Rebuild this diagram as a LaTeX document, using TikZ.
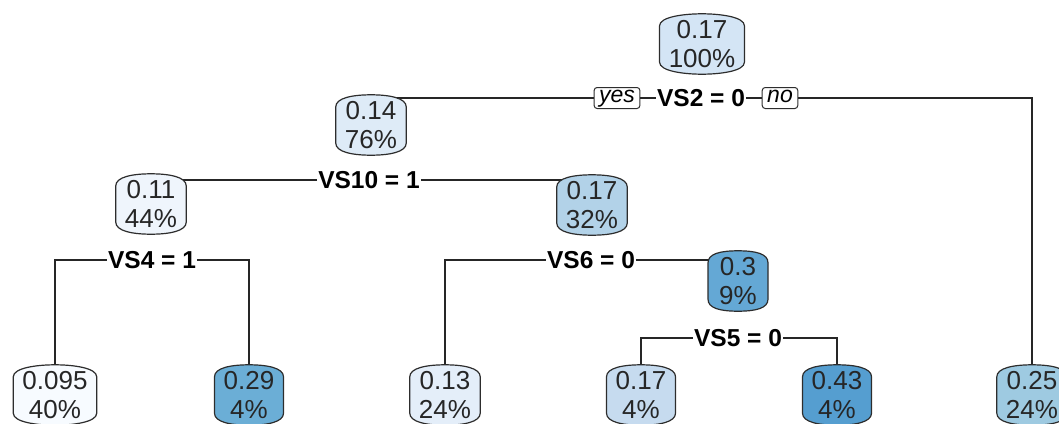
\documentclass[tikz,border=0pt]{standalone}
\usepackage{fontspec}
\setmainfont{Liberation Sans}
\usepackage{xcolor}
\usepackage{tikz}
\usetikzlibrary{positioning,calc}
\definecolor{boxline}{RGB}{45,45,45}
\definecolor{blueA}{RGB}{247,251,255}
\definecolor{blueB}{RGB}{239,245,252}
\definecolor{blueC}{RGB}{228,238,249}
\definecolor{blueD}{RGB}{222,235,247}
\definecolor{blueE}{RGB}{212,229,245}
\definecolor{blueF}{RGB}{198,219,239}
\definecolor{blueG}{RGB}{178,210,232}
\definecolor{blueH}{RGB}{158,202,225}
\definecolor{blueI}{RGB}{107,174,214}
\definecolor{blueJ}{RGB}{100,168,213}
\definecolor{blueK}{RGB}{85,158,208}
\pgfdeclarelayer{background}
\pgfsetlayers{background,main}

\begin{document}
\begin{tikzpicture}[
  x=1pt, y=-1pt,
  tnode/.style = {
    rectangle, inner xsep=9pt, inner ysep=2pt,
    minimum height=60pt, align=center, text=black!85,
    font=\fontsize{26}{29}\selectfont
  },
  tbox/.style = {draw=boxline, line width=1.2pt},
  split/.style = {inner sep=1pt, font=\fontsize{24.5}{26}\selectfont\bfseries},
  ans/.style = {
    rectangle, draw=boxline, line width=1pt, fill=white,
    rounded corners=3pt, inner xsep=5pt, inner ysep=2pt,
    text height=12.5pt, text depth=4.5pt,
    font=\fontsize{23}{24}\selectfont\itshape
  },
  br/.style = {line width=1.6pt, black!85}
]
  \useasboundingbox (0,0) rectangle (1059,423);

  % inner nodes
  \node[tnode] (root) at (702,44)  {0.17\\100\%};
  \node[tnode] (n14)  at (371,125) {0.14\\76\%};
  \node[tnode] (n11)  at (151,204) {0.11\\44\%};
  \node[tnode] (n17b) at (592,205) {0.17\\32\%};
  \node[tnode, inner xsep=11pt] (n3) at (738,281) {0.3\\9\%};

  % leaves
  \node[tnode] (n095) at (55,395)   {0.095\\40\%};
  \node[tnode] (n29)  at (249,395)  {0.29\\4\%};
  \node[tnode] (n13)  at (445,395)  {0.13\\24\%};
  \node[tnode] (n17c) at (641,395)  {0.17\\4\%};
  \node[tnode] (n43)  at (837,395)  {0.43\\4\%};
  \node[tnode] (n25)  at (1032,395) {0.25\\24\%};

  % split labels
  \node[split] (vs2)  at (701,98)  {VS2 = 0};
  \node[ans]   (yes)  at (617,98)  {yes};
  \node[ans]   (no)   at (780,98)  {no};
  \node[split] (vs10) at (369,180) {VS10 = 1};
  \node[split] (vs4)  at (152,260) {VS4 = 1};
  \node[split] (vs6)  at (591,260) {VS6 = 0};
  \node[split] (vs5)  at (738,338) {VS5 = 0};

  \begin{pgfonlayer}{background}
    \draw[br] (yes.west) -| (n14);
    \draw[br] (yes.east) -- (vs2.west);
    \draw[br] (vs2.east) -- (no.west);
    \draw[br] (no.east) -| (n25);
    \draw[br] (vs10.west) -| (n11);
    \draw[br] (vs10.east) -| (n17b);
    \draw[br] (vs4.west) -| (n095);
    \draw[br] (vs4.east) -| (n29);
    \draw[br] (vs6.west) -| (n13);
    \draw[br] (vs6.east) -| (n3);
    \draw[br] (vs5.west) -| (n17c);
    \draw[br] (vs5.east) -| (n43);

    % boxes with bulging top and bottom
    \foreach \nm/\col in {root/blueE, n14/blueD, n11/blueB, n17b/blueG, n3/blueJ,
        n095/blueA, n29/blueI, n13/blueC, n17c/blueF, n43/blueK, n25/blueH}
      \draw[tbox, fill=\col]
        let \p1 = (\nm.north west), \p2 = (\nm.south east), \p3 = (\nm.center) in
        (\x1,\y1-12pt) .. controls (\x1,\y1-3pt) and (\x3-18pt,\y1) .. (\x3,\y1)
        .. controls (\x3+18pt,\y1) and (\x2,\y1-3pt) .. (\x2,\y1-12pt)
        -- (\x2,\y2+12pt)
        .. controls (\x2,\y2+3pt) and (\x3+18pt,\y2) .. (\x3,\y2)
        .. controls (\x3-18pt,\y2) and (\x1,\y2+3pt) .. (\x1,\y2+12pt)
        -- cycle;
  \end{pgfonlayer}
\end{tikzpicture}
\end{document}
